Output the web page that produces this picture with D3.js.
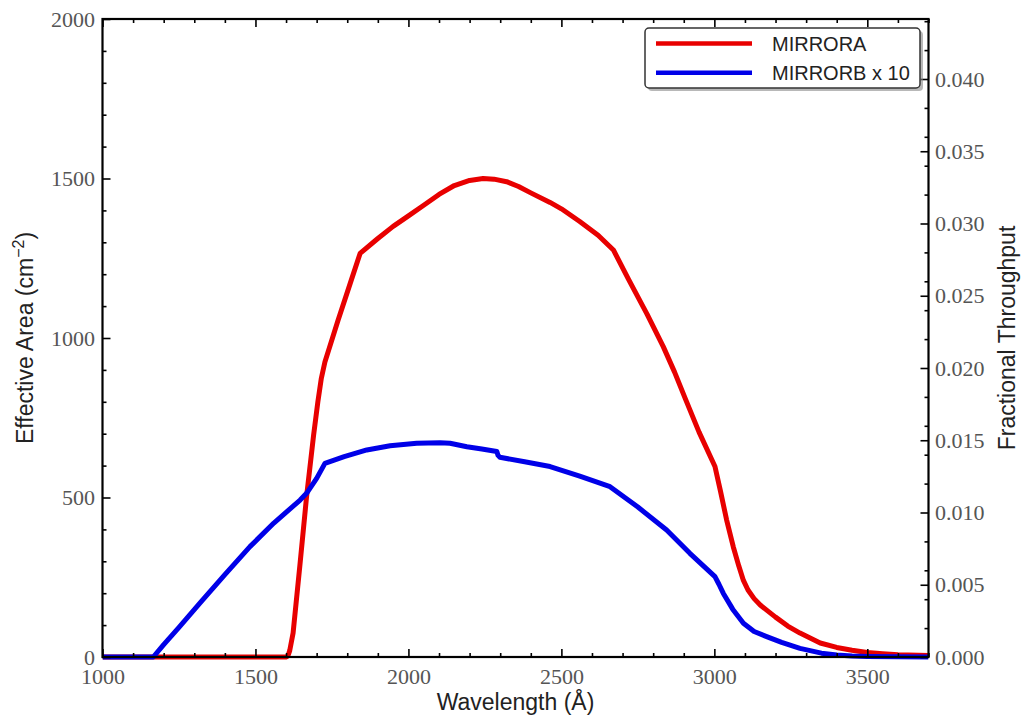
<!DOCTYPE html>
<html>
<head>
<meta charset="utf-8">
<script src="https://cdn.jsdelivr.net/npm/d3@7"></script>
<style>
  html, body { margin: 0; padding: 0; background: #fff; }
  svg { display: block; }
</style>
</head>
<body>
<svg id="chart" width="1031" height="723"></svg>
<script>
// ---------- data ----------
const mirrorAWave = [1000, 1600, 1606, 1612, 1623, 1645, 1667, 1690, 1704, 1715, 1727, 1770, 1810, 1842, 1900, 1950, 2000, 2050, 2100, 2150, 2200, 2244, 2280, 2321, 2360, 2400, 2463, 2500, 2560, 2620, 2670, 2720, 2780, 2833, 2870, 2905, 2950, 3002, 3020, 3040, 3062, 3080, 3095, 3110, 3130, 3150, 3171, 3200, 3240, 3280, 3346, 3400, 3450, 3500, 3550, 3600, 3700];
const mirrorAArea = [0, 0, 3, 20, 75, 285, 502, 695, 800, 872, 925, 1056, 1172, 1265, 1312, 1350, 1383, 1416, 1450, 1478, 1494, 1500, 1498, 1490, 1475, 1455, 1425, 1405, 1365, 1322, 1276, 1183, 1075, 973, 893, 810, 705, 597, 520, 430, 345, 285, 240, 210, 183, 163, 147, 125, 97, 75, 44, 30, 21, 14, 10, 7, 5];

const mirrorBWave = [1000, 1166, 1200, 1250, 1319, 1400, 1482, 1560, 1646, 1667, 1700, 1727, 1790, 1864, 1940, 2027, 2103, 2136, 2191, 2240, 2289, 2293, 2299, 2380, 2463, 2560, 2659, 2750, 2844, 2920, 3002, 3015, 3029, 3060, 3095, 3130, 3171, 3220, 3280, 3350, 3400, 3450, 3500, 3600, 3700];
const mirrorBArea10 = [0, 0, 39, 93, 170, 258, 346, 420, 492, 513, 560, 607, 628, 649, 662, 670, 672, 670, 659, 652, 644, 632, 626, 612, 597, 567, 534, 470, 398, 325, 252, 228, 200, 150, 106, 80, 64, 46, 27, 12, 6, 3, 1.5, 0.5, 0];

const seriesNames = ["MIRRORA", "MIRRORB x 10"];
const seriesColors = ["#e80000", "#0000e8"];

const xMajorTicks = [1000, 1500, 2000, 2500, 3000, 3500];
const yMajorTicks = [0, 500, 1000, 1500, 2000];
const y2MajorTicks = [0, 0.005, 0.010, 0.015, 0.020, 0.025, 0.030, 0.035, 0.040];
const xMinorTicks = d3.range(1000, 3701, 100).filter(v => v % 500 !== 0);
const yMinorTicks = d3.range(0, 2001, 100).filter(v => v % 500 !== 0);
const y2MinorTicks = d3.range(1, 23).map(i => i * 0.002).filter(v => Math.abs(v / 0.005 - Math.round(v / 0.005)) > 1e-6);

// ---------- layout ----------
const L = 102.5, R = 928.5, T = 19, B = 657;
const svg = d3.select("#chart");
svg.append("rect").attr("width", 1031).attr("height", 723).attr("fill", "#fff");

const x = d3.scaleLinear().domain([1000, 3700]).range([L, R]);
const y = d3.scaleLinear().domain([0, 2000]).range([B, T]);
const y2 = d3.scaleLinear().domain([0, 0.044152]).range([B, T]);

const tickFont = "'Liberation Serif', 'Times New Roman', serif";
const labelFont = "'Liberation Sans', Arial, Helvetica, sans-serif";

// ---------- curves ----------
const plot = svg.append("g");
const clip = svg.append("clipPath").attr("id", "clip");
clip.append("rect").attr("x", L).attr("y", T - 5).attr("width", R - L).attr("height", B - T + 10);

const line = d3.line().x(d => x(d[0])).y(d => y(d[1])).curve(d3.curveLinear);
const dataA = mirrorAWave.map((w, i) => [w, mirrorAArea[i]]);
const dataB = mirrorBWave.map((w, i) => [w, mirrorBArea10[i]]);

plot.append("path").datum(dataA).attr("d", line).attr("fill", "none")
  .attr("stroke", seriesColors[0]).attr("stroke-width", 5).attr("stroke-linejoin", "round")
  .attr("clip-path", "url(#clip)");
plot.append("path").datum(dataB).attr("d", line).attr("fill", "none")
  .attr("stroke", seriesColors[1]).attr("stroke-width", 5).attr("stroke-linejoin", "round")
  .attr("clip-path", "url(#clip)");

// ---------- axes ----------
function styleAxis(g) {
  g.select(".domain").remove();
  g.selectAll(".tick line").attr("stroke", "#000").attr("stroke-width", 1.6);
  g.selectAll(".tick text").attr("font-family", tickFont).attr("font-size", 22).attr("fill", "#555");
}

// bottom
svg.append("g").attr("transform", `translate(0,${B})`)
  .call(d3.axisBottom(x).tickValues(xMajorTicks).tickSize(-8).tickPadding(11).tickFormat(d3.format("d")))
  .call(styleAxis);
svg.append("g").attr("transform", `translate(0,${B})`)
  .call(d3.axisBottom(x).tickValues(xMinorTicks).tickSize(-4).tickFormat(""))
  .call(styleAxis);
// top
svg.append("g").attr("transform", `translate(0,${T})`)
  .call(d3.axisTop(x).tickValues(xMajorTicks).tickSize(-8).tickFormat(""))
  .call(styleAxis);
svg.append("g").attr("transform", `translate(0,${T})`)
  .call(d3.axisTop(x).tickValues(xMinorTicks).tickSize(-4).tickFormat(""))
  .call(styleAxis);
// left
svg.append("g").attr("transform", `translate(${L},0)`)
  .call(d3.axisLeft(y).tickValues(yMajorTicks).tickSize(-8).tickPadding(7.5).tickFormat(d3.format("d")))
  .call(styleAxis);
svg.append("g").attr("transform", `translate(${L},0)`)
  .call(d3.axisLeft(y).tickValues(yMinorTicks).tickSize(-4).tickFormat(""))
  .call(styleAxis);
// right
svg.append("g").attr("transform", `translate(${R},0)`)
  .call(d3.axisRight(y2).tickValues(y2MajorTicks).tickSize(-8).tickPadding(6.5).tickFormat(d3.format(".3f")))
  .call(styleAxis);
svg.append("g").attr("transform", `translate(${R},0)`)
  .call(d3.axisRight(y2).tickValues(y2MinorTicks).tickSize(-4).tickFormat(""))
  .call(styleAxis);

// spines
svg.append("rect").attr("x", L).attr("y", T).attr("width", R - L).attr("height", B - T)
  .attr("fill", "none").attr("stroke", "#000").attr("stroke-width", 2.2);

// ---------- axis labels ----------
svg.append("text").attr("x", (L + R) / 2).attr("y", 710).attr("text-anchor", "middle")
  .attr("font-family", labelFont).attr("font-size", 23).attr("fill", "#222")
  .text("Wavelength (Å)");

const yl = svg.append("text").attr("transform", `translate(33,${(T + B) / 2}) rotate(-90)`)
  .attr("text-anchor", "middle").attr("font-family", labelFont).attr("font-size", 23).attr("fill", "#222");
yl.append("tspan").text("Effective Area (cm");
yl.append("tspan").attr("dy", -9).attr("font-size", 16).text("−2");
yl.append("tspan").attr("dy", 9).text(")");

svg.append("text").attr("transform", `translate(1015,${(T + B) / 2}) rotate(-90)`)
  .attr("text-anchor", "middle").attr("font-family", labelFont).attr("font-size", 23).attr("fill", "#222")
  .text("Fractional Throughput");

// ---------- legend ----------
const lg = svg.append("g");
lg.append("rect").attr("x", 648).attr("y", 31).attr("width", 275).attr("height", 60).attr("rx", 4)
  .attr("fill", "#888").attr("opacity", 0.6);
lg.append("rect").attr("x", 645).attr("y", 28).attr("width", 275).attr("height", 60).attr("rx", 4)
  .attr("fill", "#fff").attr("stroke", "#333").attr("stroke-width", 1.5);
seriesNames.forEach((name, i) => {
  const yy = 43.5 + i * 29.3;
  lg.append("line").attr("x1", 656).attr("x2", 752).attr("y1", yy).attr("y2", yy)
    .attr("stroke", seriesColors[i]).attr("stroke-width", 4.5);
  lg.append("text").attr("x", 772).attr("y", yy + 7).attr("font-family", labelFont)
    .attr("font-size", 20).attr("fill", "#222").text(name);
});
</script>
</body>
</html>
